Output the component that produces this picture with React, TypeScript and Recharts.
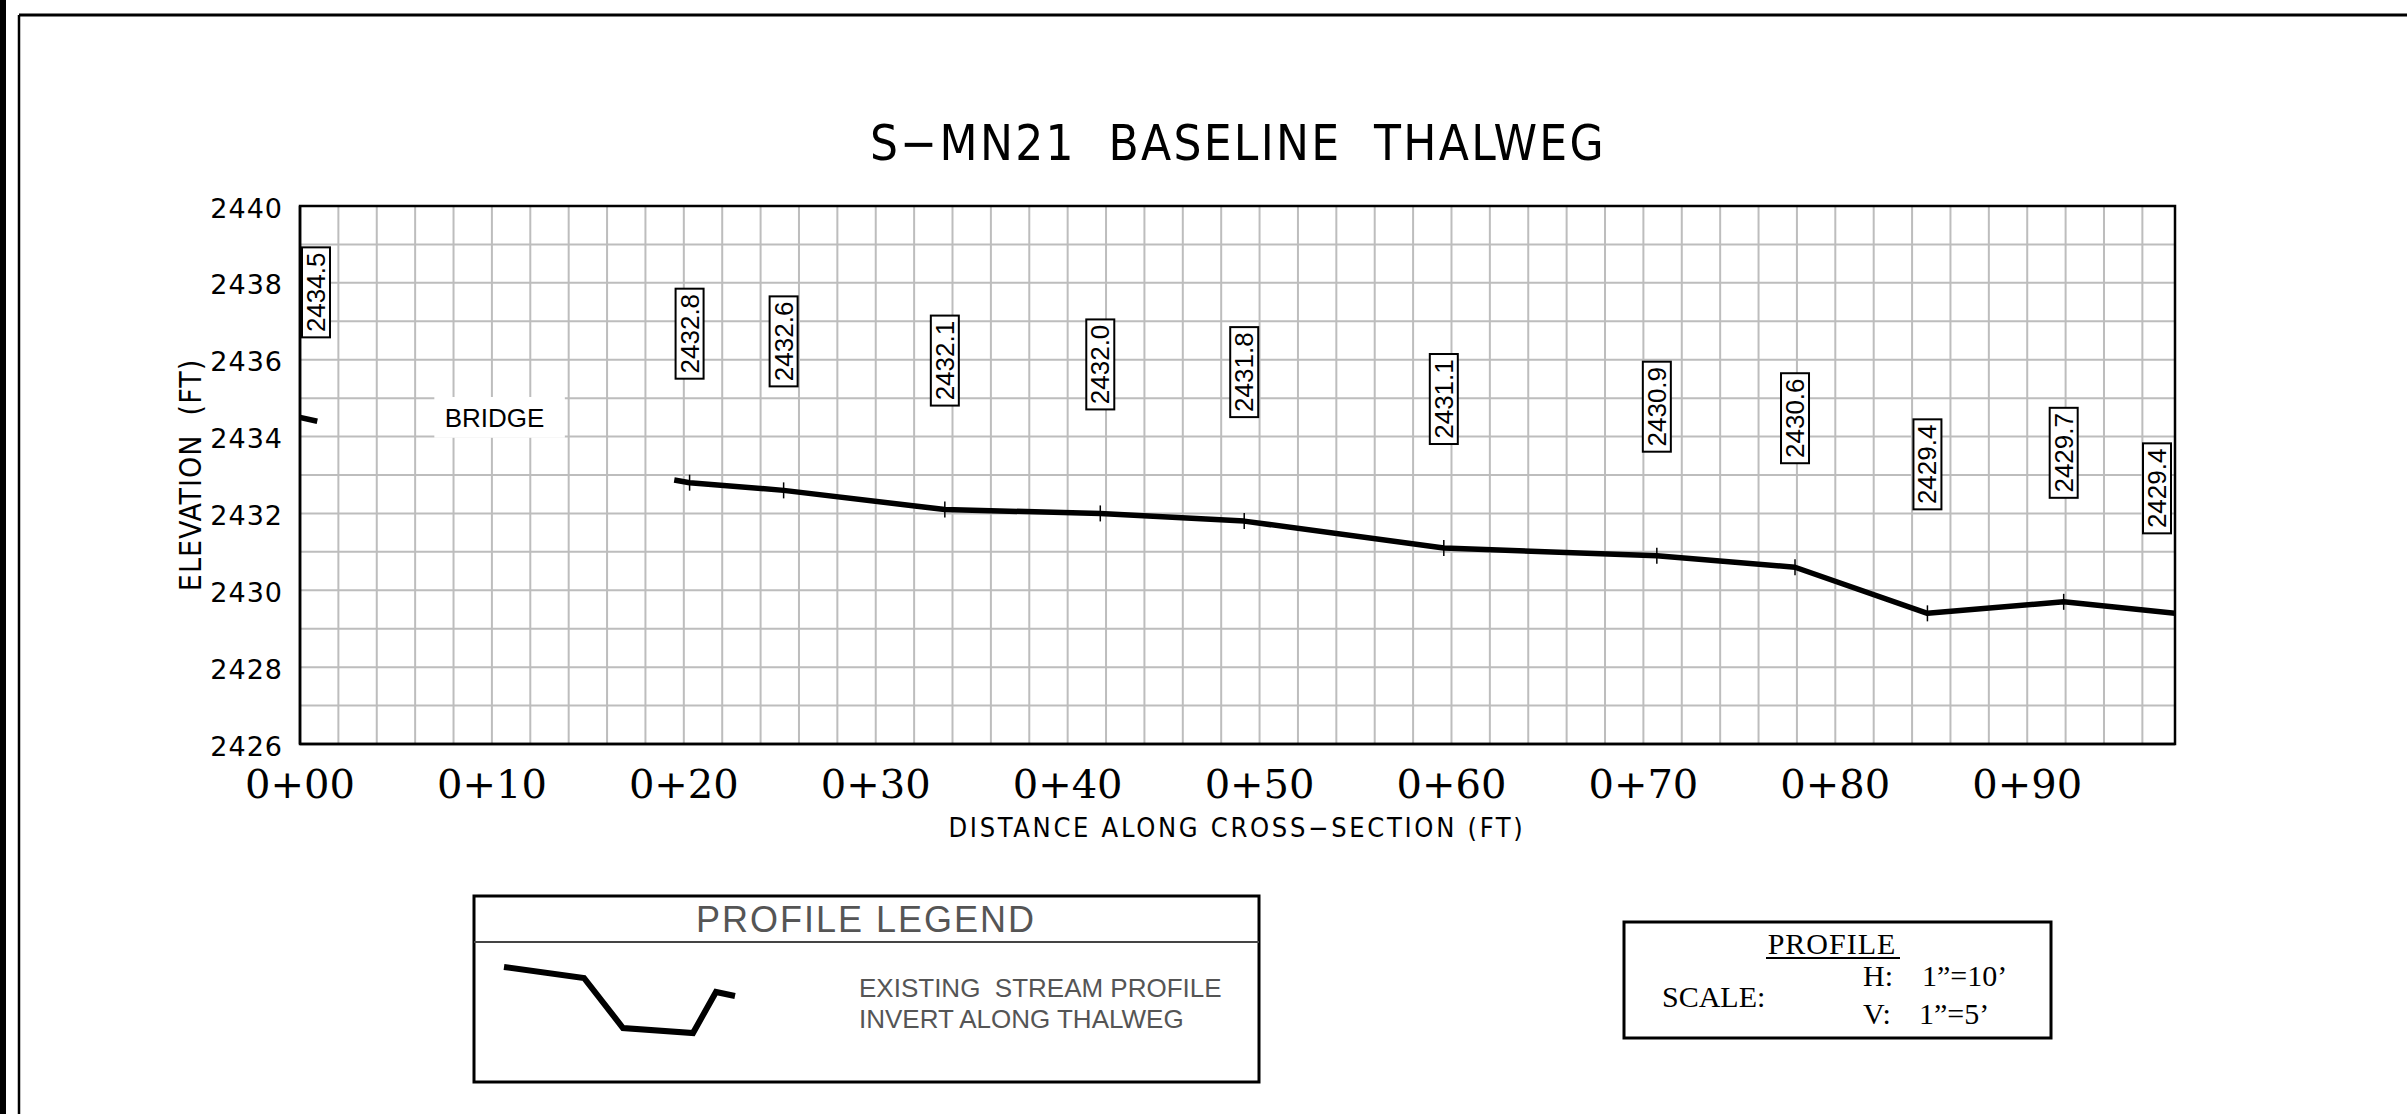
import React from 'react';
import { LineChart, Line, XAxis, YAxis, CartesianGrid, ReferenceArea, LabelList } from 'recharts';

// Upstream stub of the profile (left of the bridge)
const upstreamStations = [0, 0.9];
const upstreamElevations = [2434.5, 2434.4];
const upstreamLabels = ['2434.5', ''];

// Thalweg invert downstream of the bridge
const thalwegStations = [19.5, 20.3, 25.2, 33.6, 41.7, 49.2, 59.6, 70.7, 77.9, 84.8, 91.9, 97.7];
const thalwegElevations = [2432.87, 2432.8, 2432.6, 2432.1, 2432.0, 2431.8, 2431.1, 2430.9, 2430.6, 2429.4, 2429.7, 2429.4];
const thalwegLabels = ['', '2432.8', '2432.6', '2432.1', '2432.0', '2431.8', '2431.1', '2430.9', '2430.6', '2429.4', '2429.7', '2429.4'];

// Axis ticks and labels
const stationTicks = [0, 10, 20, 30, 40, 50, 60, 70, 80, 90];
const stationTickLabels = ['0+00', '0+10', '0+20', '0+30', '0+40', '0+50', '0+60', '0+70', '0+80', '0+90'];
const elevationTicks = [2426, 2428, 2430, 2432, 2434, 2436, 2438, 2440];

const X_MAX = 97.7;
const Y_MIN = 2426;
const Y_MAX = 2440;
const BRIDGE_FROM = 7.0;
const BRIDGE_TO = 13.8;

// grid every 2 ft horizontally, every 1 ft vertically
const xGrid = Array.from({ length: 49 }, (_, i) => i * 2);
const yGrid = Array.from({ length: 15 }, (_, i) => Y_MIN + i);

const W = 2407;
const H = 1114;
const PLOT_LEFT = 300;
const PLOT_RIGHT = 2175;

const upstreamData = upstreamStations.map((s, i) => ({ station: s, elev: upstreamElevations[i], label: upstreamLabels[i] }));
const thalwegData = thalwegStations.map((s, i) => ({ station: s, elev: thalwegElevations[i], label: thalwegLabels[i] }));

const narrow = "'Liberation Sans Narrow', 'DejaVu Sans Condensed', 'Arial Narrow', sans-serif";
const sans = "'Liberation Sans', Arial, sans-serif";
const serif = "'Liberation Serif', 'Times New Roman', serif";

const StationTick = (props: any) => {
  const { x, y, payload } = props;
  const i = stationTicks.indexOf(payload.value);
  if (i < 0) return <g />;
  return (
    <text x={x} y={y + 54} textAnchor="middle" fontFamily="'DejaVu Serif', serif" fontSize={40} fill="#000">
      {stationTickLabels[i]}
    </text>
  );
};

const ElevationTick = (props: any) => {
  const { x, y, payload } = props;
  if (!elevationTicks.includes(payload.value)) return <g />;
  return (
    <text x={x - 17} y={y + 2} textAnchor="end" dominantBaseline="central" fontFamily="'DejaVu Sans', sans-serif" fontSize={27} letterSpacing={1} fill="#000">
      {payload.value}
    </text>
  );
};

// small vertical tick through each surveyed point
const renderPointTick = (props: any) => {
  const { cx, cy, payload, index } = props;
  if (!payload || !payload.label) return <g key={`d${index}`} />;
  return <line key={`d${index}`} x1={cx} x2={cx} y1={cy - 8} y2={cy + 8} stroke="#000" strokeWidth={1.5} />;
};

// boxed, rotated elevation call-out above each point
const renderElevLabel = (props: any) => {
  const { value, index } = props;
  if (!value) return <g key={`l${index}`} />;
  const px = props.x ?? props.viewBox?.x;
  const py = props.y ?? props.viewBox?.y;
  const bw = 28;
  const bh = 90;
  let cx = px;
  let offset = 104;
  if (px - bw / 2 < PLOT_LEFT + 2) {
    cx = PLOT_LEFT + 2 + bw / 2;
    offset = 80;
  } else if (px + bw / 2 > PLOT_RIGHT - 2) {
    cx = PLOT_RIGHT - 4 - bw / 2;
    offset = 80;
  }
  const bottom = py - offset;
  const cy = bottom - bh / 2;
  return (
    <g key={`l${index}`}>
      <rect x={cx - bw / 2} y={bottom - bh} width={bw} height={bh} fill="#fff" stroke="#000" strokeWidth={2} />
      <text
        x={cx}
        y={cy}
        transform={`rotate(-90 ${cx} ${cy})`}
        textAnchor="middle"
        dominantBaseline="central"
        fontFamily={sans}
        fontSize={26}
        fill="#000"
      >
        {value}
      </text>
    </g>
  );
};

export default function App() {
  return (
    <div style={{ position: 'absolute', left: 0, top: 0, width: W, height: H, background: '#fff' }}>
      <LineChart width={W} height={H} margin={{ top: 206, right: W - PLOT_RIGHT, bottom: H - 744 - 60, left: PLOT_LEFT - 100 }}>
        <CartesianGrid stroke="#bdbdbd" strokeWidth={2} />
        <XAxis
          dataKey="station"
          type="number"
          domain={[0, X_MAX]}
          ticks={xGrid}
          interval={0}
          tickSize={0}
          tickMargin={0}
          tick={StationTick}
          tickLine={false}
          axisLine={{ stroke: '#000', strokeWidth: 2.5 }}
          height={60}
          allowDataOverflow
        />
        <YAxis
          type="number"
          domain={[Y_MIN, Y_MAX]}
          ticks={yGrid}
          interval={0}
          tickSize={0}
          tickMargin={0}
          tick={ElevationTick}
          tickLine={false}
          axisLine={{ stroke: '#000', strokeWidth: 2.5 }}
          width={100}
          allowDataOverflow
        />
        <ReferenceArea
          x1={BRIDGE_FROM}
          x2={BRIDGE_TO}
          y1={2433.97}
          y2={2435.03}
          fill="#fff"
          fillOpacity={1}
          stroke="none"
          label={{ value: 'BRIDGE', position: 'center', fill: '#000', fontSize: 26, fontFamily: sans, dx: -5 }}
        />
        <ReferenceArea x1={0} x2={X_MAX} y1={Y_MIN} y2={Y_MAX} fill="none" stroke="#000" strokeWidth={2.5} />
        <Line
          data={upstreamData}
          dataKey="elev"
          type="linear"
          stroke="#000"
          strokeWidth={5.5}
          dot={renderPointTick}
          activeDot={false}
          isAnimationActive={false}
        >
          <LabelList dataKey="label" content={renderElevLabel} />
        </Line>
        <Line
          data={thalwegData}
          dataKey="elev"
          type="linear"
          stroke="#000"
          strokeWidth={5.5}
          strokeLinejoin="round"
          dot={renderPointTick}
          activeDot={false}
          isAnimationActive={false}
        >
          <LabelList dataKey="label" content={renderElevLabel} />
        </Line>
      </LineChart>

      <svg width={W} height={H} style={{ position: 'absolute', left: 0, top: 0, pointerEvents: 'none' }}>
        {/* sheet frame */}
        <rect x={0} y={0} width={6} height={H} fill="#000" />
        <line x1={19} y1={15} x2={19} y2={H} stroke="#000" strokeWidth={2.5} />
        <line x1={19} y1={15} x2={W} y2={15} stroke="#000" strokeWidth={3} />

        <text x={1238} y={160} textAnchor="middle" fontFamily={narrow} fontSize={49} letterSpacing={2.3} fill="#000" style={{ whiteSpace: 'pre' }}>
          {'S\u2212MN21  BASELINE  THALWEG'}
        </text>
        <text x={201} y={475} transform="rotate(-90 201 475)" textAnchor="middle" fontFamily={narrow} fontSize={30} letterSpacing={1} fill="#000" style={{ whiteSpace: 'pre' }}>
          {'ELEVATION  (FT)'}
        </text>
        <text x={1237} y={837} textAnchor="middle" fontFamily={narrow} fontSize={27} letterSpacing={2.7} fill="#000">
          {'DISTANCE ALONG CROSS\u2212SECTION (FT)'}
        </text>

        {/* profile legend */}
        <rect x={474} y={896} width={785} height={186} fill="none" stroke="#000" strokeWidth={3} />
        <line x1={474} y1={942} x2={1259} y2={942} stroke="#444" strokeWidth={2} />
        <text x={866} y={932} textAnchor="middle" fontFamily={sans} fontSize={36} letterSpacing={2} fill="#555">PROFILE LEGEND</text>
        <polyline points="504,967 584,978 623,1028 693,1033 716,992 735,996" fill="none" stroke="#000" strokeWidth={6} />
        <text x={859} y={997} fontFamily={sans} fontSize={26} fill="#555" style={{ whiteSpace: 'pre' }}>{'EXISTING  STREAM PROFILE'}</text>
        <text x={859} y={1028} fontFamily={sans} fontSize={26} fill="#555">INVERT ALONG THALWEG</text>

        {/* scale box */}
        <rect x={1624} y={922} width={427} height={116} fill="none" stroke="#000" strokeWidth={3} />
        <text x={1832} y={954} textAnchor="middle" fontFamily={serif} fontSize={30} letterSpacing={1} fill="#000">PROFILE</text>
        <line x1={1766} y1={958} x2={1900} y2={958} stroke="#000" strokeWidth={2} />
        <text x={1662} y={1007} fontFamily={serif} fontSize={30} fill="#000">SCALE:</text>
        <text x={1863} y={986} fontFamily={serif} fontSize={30} fill="#000">H:</text>
        <text x={1922} y={986} fontFamily={serif} fontSize={30} fill="#000">{'1\u201D=10\u2019'}</text>
        <text x={1863} y={1024} fontFamily={serif} fontSize={30} fill="#000">V:</text>
        <text x={1919} y={1024} fontFamily={serif} fontSize={30} fill="#000">{'1\u201D=5\u2019'}</text>
      </svg>
    </div>
  );
}
